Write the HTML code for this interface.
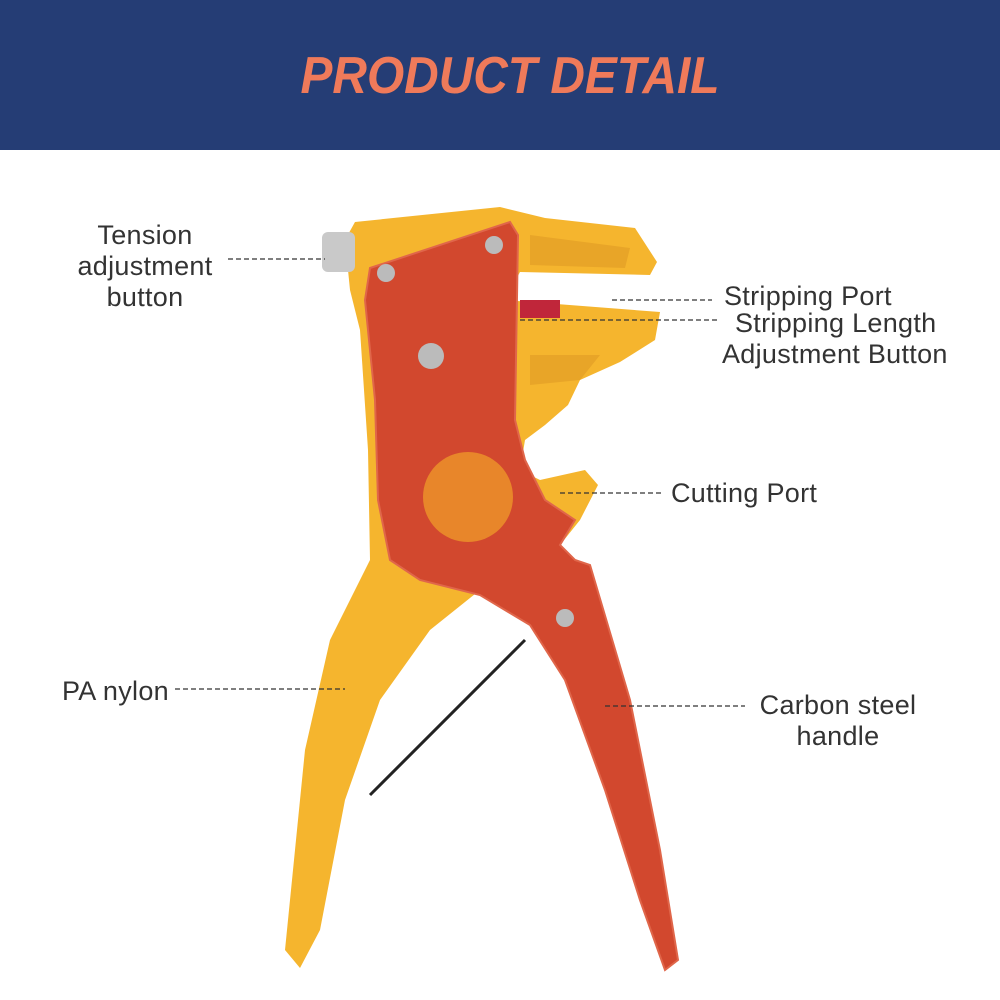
<!DOCTYPE html>
<html><head><style>
body{margin:0;width:1000px;height:1000px;background:#fff;position:relative;overflow:hidden;font-family:"Liberation Sans",sans-serif}
.hdr{position:absolute;left:0;top:0;width:1000px;height:150px;background:#253d75}
.t{position:absolute;left:0;width:1000px;top:46px;text-align:center;font-size:52px;font-weight:bold;font-style:italic;color:#ef7a5a;transform:scaleX(0.92);transform-origin:510px 0;padding-left:20px;box-sizing:border-box}
.l{position:absolute;font-size:27px;color:#333;line-height:31px;white-space:nowrap;letter-spacing:0.3px}
</style></head><body>
<div class="hdr"></div><div class="t">PRODUCT DETAIL</div>
<svg width="1000" height="1000" style="position:absolute;left:0;top:0">
<line x1="370" y1="795" x2="525" y2="640" stroke="#222" stroke-width="3"/>
<polygon fill="#f5b52e" points="345,240 355,222 500,207 545,218 635,228 657,262 650,275 520,272 505,300 660,312 655,340 620,362 580,380 568,405 545,425 525,440 520,470 540,480 585,470 598,485 580,520 560,545 480,590 430,630 380,700 345,800 320,930 300,968 285,950 295,850 305,750 330,640 370,560 368,450 360,330 350,290"/>
<rect x="322" y="232" width="33" height="40" rx="6" fill="#c9c9c9"/>
<polygon fill="#e8a528" points="530,235 630,248 625,268 530,265"/>
<polygon fill="#e8a528" points="530,355 600,355 580,380 530,385"/>
<rect x="520" y="300" width="40" height="18" fill="#c0263a"/>
<polygon fill="#d2482e" stroke="#e0664a" stroke-width="2" points="370,268 510,222 518,235 515,420 525,460 545,500 575,520 560,545 575,560 590,565 630,700 660,850 678,960 665,970 640,900 605,790 565,680 530,625 480,595 420,580 390,560 378,500 375,400 365,300"/>
<circle cx="468" cy="497" r="45" fill="#e8862a"/>
<circle cx="386" cy="273" r="9" fill="#bbb"/><circle cx="494" cy="245" r="9" fill="#bbb"/><circle cx="431" cy="356" r="13" fill="#bbb"/><circle cx="565" cy="618" r="9" fill="#bbb"/>
<g stroke="#333" stroke-width="1.3" stroke-dasharray="5,3">
<line x1="228" y1="259" x2="325" y2="259"/><line x1="612" y1="300" x2="712" y2="300"/><line x1="520" y1="320" x2="720" y2="320"/>
<line x1="560" y1="493" x2="662" y2="493"/><line x1="175" y1="689" x2="345" y2="689"/><line x1="605" y1="706" x2="745" y2="706"/>
</g></svg>
<div class="l" style="left:60px;top:220px;width:170px;text-align:center">Tension<br>adjustment<br>button</div>
<div class="l" style="left:724px;top:281px">Stripping Port</div>
<div class="l" style="left:735px;top:308px">Stripping Length</div>
<div class="l" style="left:722px;top:339px">Adjustment Button</div>
<div class="l" style="left:671px;top:478px">Cutting Port</div>
<div class="l" style="left:62px;top:676px">PA nylon</div>
<div class="l" style="left:748px;top:690px;width:180px;text-align:center">Carbon steel<br>handle</div>
</body></html>
